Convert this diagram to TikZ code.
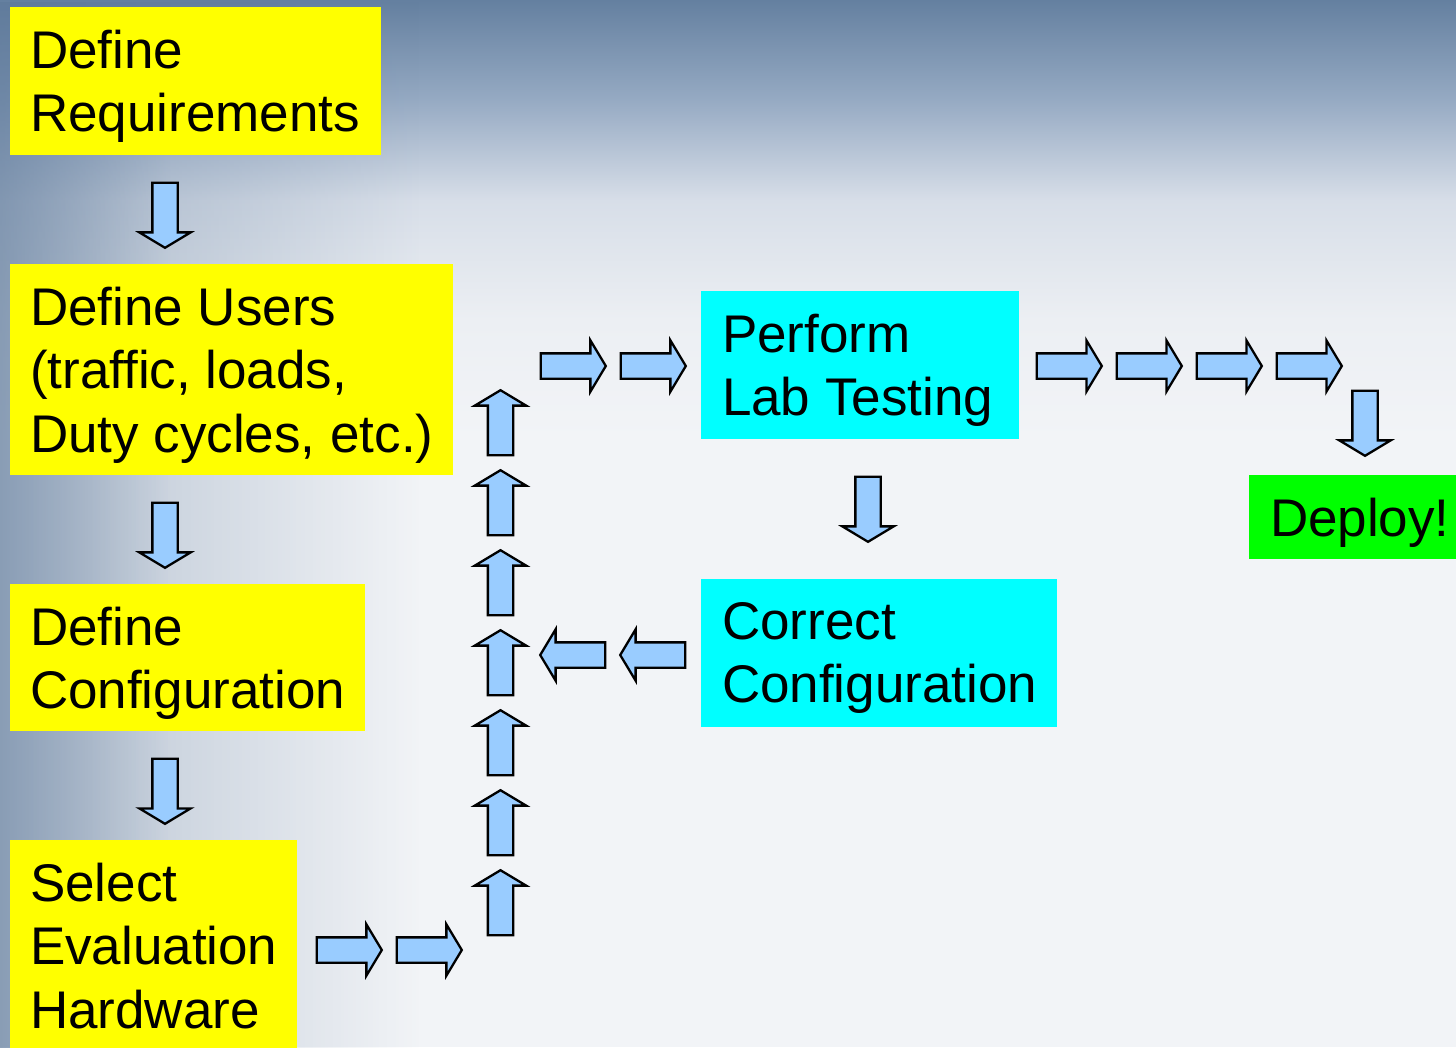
\documentclass[tikz,border=0pt]{standalone}
\usepackage{fontspec}
\setmainfont{Liberation Sans}
\usetikzlibrary{shapes.arrows,fadings,calc}
\definecolor{ayellow}{RGB}{255,255,0}
\definecolor{acyan}{RGB}{0,255,255}
\definecolor{agreen}{RGB}{0,255,0}
\definecolor{arrowblue}{RGB}{153,204,255}
\definecolor{bgbase}{RGB}{242,244,247}
\definecolor{bgtop}{RGB}{100,128,160}
\definecolor{bgmid}{RGB}{150,170,195}
\definecolor{bglow}{RGB}{215,222,232}
\definecolor{bgend}{RGB}{236,239,243}
\definecolor{leftblue}{RGB}{95,122,155}
\begin{document}
\begin{tikzpicture}[x=1pt,y=-1pt,
  boxbase/.style={rectangle, anchor=north west, inner sep=0pt, outer sep=0pt},
  ybox/.style={boxbase, fill=ayellow},
  cbox/.style={boxbase, fill=acyan},
  gbox/.style={boxbase, fill=agreen},
  lbl/.style={anchor=north west, inner sep=0pt, outer sep=0pt, align=left,
    font=\fontsize{53}{63.5}\selectfont, text=black},
  blockarrow/.style={single arrow, draw=black, line width=2.3pt, fill=arrowblue,
    minimum height=65pt, minimum width=0pt, inner xsep=0pt, inner ysep=11.5pt,
    single arrow head extend=13pt, single arrow tip angle=118},
  rarrow/.style={blockarrow},
  darrow/.style={blockarrow, rotate=-90},
  uarrow/.style={blockarrow, rotate=90},
  larrow/.style={blockarrow, rotate=180}
]
\useasboundingbox (0,0) rectangle (1456,1047);
\clip (0,0) rectangle (1456,1047);
% background
\fill[bgbase] (0,0) rectangle (1456,1047);
\shade[top color=bgtop, bottom color=bgmid] (0,0) rectangle (1456,100);
\shade[top color=bgmid, bottom color=bglow] (0,100) rectangle (1456,200);
\shade[top color=bglow, bottom color=bgend] (0,200) rectangle (1456,320);
\shade[top color=bgend, bottom color=bgbase] (0,320) rectangle (1456,440);
\fill[leftblue, opacity=0.42, path fading=east] (0,0) rectangle (420,1047);
\fill[leftblue, opacity=0.5, path fading=east] (0,0) rectangle (170,1047);

% boxes
\node[ybox, minimum width=371pt, minimum height=148pt] (b1) at (10,7) {};
\node[ybox, minimum width=443pt, minimum height=211pt] (b2) at (10,264) {};
\node[ybox, minimum width=355pt, minimum height=147pt] (b3) at (10,584) {};
\node[ybox, minimum width=287pt, minimum height=230pt] (b4) at (10,840) {};
\node[cbox, minimum width=318pt, minimum height=148pt] (b5) at (701,291) {};
\node[cbox, minimum width=356pt, minimum height=148pt] (b6) at (701,579) {};
\node[gbox, minimum width=230pt, minimum height=84pt] (b7) at (1249,475) {};

% texts
\node[lbl] (t1) at ($(b1.north west)+(20,23)$) {Define\\Requirements};
\node[lbl] (t2) at ($(b2.north west)+(20,23)$) {Define Users\\(traffic, loads,\\Duty cycles, etc.)};
\node[lbl] (t3) at ($(b3.north west)+(20,23)$) {Define\\Configuration};
\node[lbl] (t4) at ($(b4.north west)+(20,23)$) {Select\\Evaluation\\Hardware};
\node[lbl] (t5) at ($(b5.north west)+(21,23)$) {Perform\\Lab Testing};
\node[lbl] (t6) at ($(b6.north west)+(21,23)$) {Correct\\Configuration};
\node[lbl] (t7) at ($(b7.north west)+(21,23)$) {Deploy!};

% down arrows
\node[darrow] (d1) at (165,211.5) {};
\node[darrow] (d2) at (165,531.5) {};
\node[darrow] (d3) at (165,787.5) {};
\node[darrow] (d4) at (868,505.5) {};
\node[darrow] (d5) at (1365,419.5) {};
% right arrows bottom
\node[rarrow] (r1) at (345.5,950) {};
\node[rarrow] (r2) at (425.5,950) {};
% up arrows
\node[uarrow] (u1) at (500.5,906.5) {};
\node[uarrow] (u2) at (500.5,826.5) {};
\node[uarrow] (u3) at (500.5,746.5) {};
\node[uarrow] (u4) at (500.5,666.5) {};
\node[uarrow] (u5) at (500.5,586.5) {};
\node[uarrow] (u6) at (500.5,506.5) {};
\node[uarrow] (u7) at (500.5,426.5) {};
% right arrows top
\node[rarrow] (r3) at (569.5,366) {};
\node[rarrow] (r4) at (649.5,366) {};
\node[rarrow] (r5) at (1065.5,366) {};
\node[rarrow] (r6) at (1145.5,366) {};
\node[rarrow] (r7) at (1225.5,366) {};
\node[rarrow] (r8) at (1305.5,366) {};
% left arrows
\node[larrow] (l1) at (576.5,655) {};
\node[larrow] (l2) at (656.5,655) {};
\end{tikzpicture}
\end{document}
